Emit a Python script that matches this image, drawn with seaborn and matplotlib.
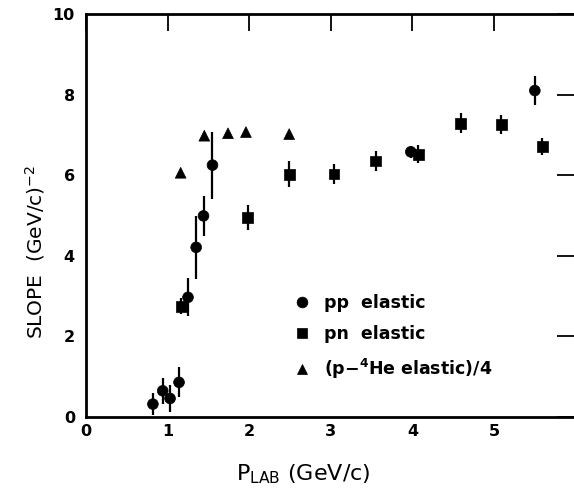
import matplotlib
matplotlib.use("Agg")
import matplotlib.pyplot as plt
import seaborn as sns
import pandas as pd

# pp elastic slopes
pp_p = [0.82, 0.94, 1.03, 1.14, 1.25, 1.35, 1.44, 1.55, 3.98, 5.50]
pp_slope = [0.32, 0.65, 0.46, 0.86, 2.97, 4.21, 4.99, 6.25, 6.58, 8.10]
pp_err = [0.27, 0.33, 0.33, 0.37, 0.47, 0.78, 0.49, 0.83, 0.15, 0.35]

# pn elastic slopes
pn_p = [1.17, 1.98, 2.49, 3.04, 3.55, 4.07, 4.59, 5.09, 5.59]
pn_slope = [2.75, 4.95, 6.02, 6.03, 6.35, 6.52, 7.29, 7.25, 6.71]
pn_err = [0.20, 0.32, 0.32, 0.26, 0.25, 0.22, 0.25, 0.24, 0.22]

# p-4He elastic slopes divided by 4
he_p = [1.16, 1.45, 1.74, 1.96, 2.49]
he_slope = [6.06, 6.98, 7.04, 7.07, 7.02]

labels = ["pp  elastic", "pn  elastic", r"(p$-^{\mathbf{4}}$He elastic)/4"]
x_ticks = [0, 1, 2, 3, 4, 5]
y_ticks = [0, 2, 4, 6, 8, 10]

df = pd.concat([
    pd.DataFrame({"p": pp_p, "slope": pp_slope, "series": labels[0]}),
    pd.DataFrame({"p": pn_p, "slope": pn_slope, "series": labels[1]}),
    pd.DataFrame({"p": he_p, "slope": he_slope, "series": labels[2]}),
], ignore_index=True)

sns.set_style("white")
plt.rcParams["font.family"] = ["DejaVu Sans"]
plt.rcParams["text.color"] = "black"
plt.rcParams["axes.labelcolor"] = "black"
plt.rcParams["xtick.color"] = "black"
plt.rcParams["ytick.color"] = "black"
plt.rcParams["mathtext.default"] = "regular"

fig = plt.figure(figsize=(5.74, 4.91), dpi=100)
ax = fig.add_axes([86 / 574, 74 / 491, 488 / 574, 403 / 491])

ax.errorbar(pp_p, pp_slope, yerr=pp_err, fmt="none", ecolor="black",
            elinewidth=1.6, capsize=0, zorder=2)
ax.errorbar(pn_p, pn_slope, yerr=pn_err, fmt="none", ecolor="black",
            elinewidth=1.6, capsize=0, zorder=2)

sns.scatterplot(data=df, x="p", y="slope", style="series",
                markers={labels[0]: "o", labels[1]: "s", labels[2]: "^"},
                color="black", s=60, edgecolor="black", linewidth=0.5,
                ax=ax, zorder=3)

ax.set_xlim(0, 5.98)
ax.set_ylim(0, 10)
ax.set_xticks(x_ticks)
ax.set_yticks(y_ticks)
ax.set_xticklabels([str(t) for t in x_ticks], fontsize=11.5, fontweight="bold")
ax.set_yticklabels([str(t) for t in y_ticks], fontsize=11.5, fontweight="bold")
ax.tick_params(axis="both", direction="in", length=12, width=1.3,
               top=True, right=True)
ax.tick_params(axis="x", pad=5)
ax.tick_params(axis="y", pad=8)

for side in ["left", "bottom", "top"]:
    ax.spines[side].set_linewidth(2.0)
    ax.spines[side].set_color("black")
ax.spines["right"].set_visible(False)

ax.set_xlabel(r"P$_{LAB}$ (GeV/c)", fontsize=16)
ax.set_ylabel(r"SLOPE  (GeV/c)$^{-2}$", fontsize=14.5)
ax.xaxis.set_label_coords(0.446, -0.112)
ax.yaxis.set_label_coords(-0.079, 0.41)

handles, _ = ax.get_legend_handles_labels()
leg = ax.legend(handles=handles, labels=labels, loc="upper left",
                bbox_to_anchor=(0.382, 0.345), frameon=False,
                prop={"size": 12.5, "weight": "bold"},
                handletextpad=0.5, labelspacing=0.78, markerscale=1.0,
                handlelength=1.6)

fig.savefig("out.png", dpi=100)
